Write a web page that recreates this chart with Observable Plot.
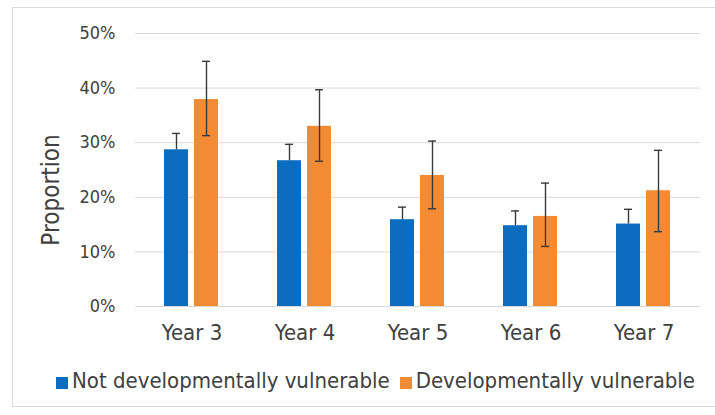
<!DOCTYPE html>
<html>
<head>
<meta charset="utf-8">
<script src="https://cdn.jsdelivr.net/npm/d3@7"></script>
<script src="https://cdn.jsdelivr.net/npm/@observablehq/plot@0.6"></script>
<style>
  html, body { margin: 0; padding: 0; background: #fff; width: 715px; height: 415px; overflow: hidden; position: relative; }
  #frame { position: absolute; left: 12px; top: 7px; width: 720px; height: 400px; border: 1px solid #d9d9d9; box-sizing: border-box; pointer-events: none; }
  #chart { position: absolute; left: 0; top: 0; }
  #legend { position: absolute; left: 56px; top: 370px; display: flex; align-items: flex-start;
            font-family: "DejaVu Sans Condensed", "DejaVu Sans", sans-serif; font-size: 22px; line-height: 21px; color: #404040; white-space: nowrap; }
  .item { display: flex; align-items: flex-start; margin-right: 10px; }
  .sw { width: 12px; height: 12px; margin-top: 7px; margin-right: 4px; }
</style>
</head>
<body>
<div id="chart"></div>
<div id="legend"></div>
<div id="frame"></div>
<script>
const years = ["Year 3", "Year 4", "Year 5", "Year 6", "Year 7"];
const series = ["Not developmentally vulnerable", "Developmentally vulnerable"];
const colors = ["#0b6cc0", "#f38b35"];
const notVuln     = [0.287, 0.267, 0.159, 0.148, 0.151];
const notVulnLow  = [0.287, 0.267, 0.159, 0.148, 0.151];
const notVulnHigh = [0.317, 0.297, 0.182, 0.175, 0.178];
const vuln        = [0.379, 0.330, 0.240, 0.165, 0.212];
const vulnLow     = [0.313, 0.266, 0.179, 0.110, 0.137];
const vulnHigh    = [0.449, 0.397, 0.303, 0.226, 0.286];
const yTicks = [0, 0.1, 0.2, 0.3, 0.4, 0.5];

const rows = [];
years.forEach((yr, i) => {
  rows.push({year: yr, series: series[0], value: notVuln[i], low: notVulnLow[i], high: notVulnHigh[i], cap: false});
  rows.push({year: yr, series: series[1], value: vuln[i], low: vulnLow[i], high: vulnHigh[i], cap: true});
});
const lowCaps = rows.filter(d => d.cap);

const font = '"DejaVu Sans Condensed", "DejaVu Sans", sans-serif';

const chart = Plot.plot({
  width: 715,
  height: 350,
  marginLeft: 135,
  marginRight: 15,
  marginTop: 33,
  marginBottom: 44,
  style: {fontFamily: font, color: "#404040", background: "transparent"},
  fx: {domain: years, padding: 0, label: null},
  x: {domain: series, paddingInner: 0.194, paddingOuter: 0.92, axis: null},
  y: {domain: [0, 0.5], label: null},
  color: {domain: series, range: colors},
  marks: [
    Plot.ruleY(yTicks, {y: d => d, stroke: "#d9d9d9", strokeWidth: 1}),
    Plot.barY(rows, {fx: "year", x: "series", y: "value", fill: "series"}),
    Plot.ruleX(rows, {fx: "year", x: "series", y1: "low", y2: "high", stroke: "#3a3a3a", strokeWidth: 1.4}),
    Plot.tickY(rows, {fx: "year", x: "series", y: "high", stroke: "#3a3a3a", strokeWidth: 1.4, insetLeft: 8, insetRight: 8}),
    Plot.tickY(lowCaps, {fx: "year", x: "series", y: "low", stroke: "#3a3a3a", strokeWidth: 1.4, insetLeft: 8, insetRight: 8}),
    Plot.axisY({ticks: yTicks, tickFormat: d3.format(".0%"), tickSize: 0, tickPadding: 20, fontSize: 18, label: null}),
    Plot.axisFx({anchor: "bottom", tickSize: 0, tickPadding: 18, fontSize: 22, label: null}),
    Plot.text(["Proportion"], {fx: () => "Year 3", text: d => d, frameAnchor: "left", textAnchor: "middle", rotate: -90, dx: -84, dy: 20, fontSize: 24, fill: "#404040"})
  ]
});
document.getElementById("chart").appendChild(chart);

const legend = document.getElementById("legend");
series.forEach((s, i) => {
  const item = document.createElement("div");
  item.className = "item";
  const sw = document.createElement("div");
  sw.className = "sw";
  sw.style.background = colors[i];
  const t = document.createElement("span");
  t.textContent = s;
  item.appendChild(sw);
  item.appendChild(t);
  legend.appendChild(item);
});
</script>
</body>
</html>
